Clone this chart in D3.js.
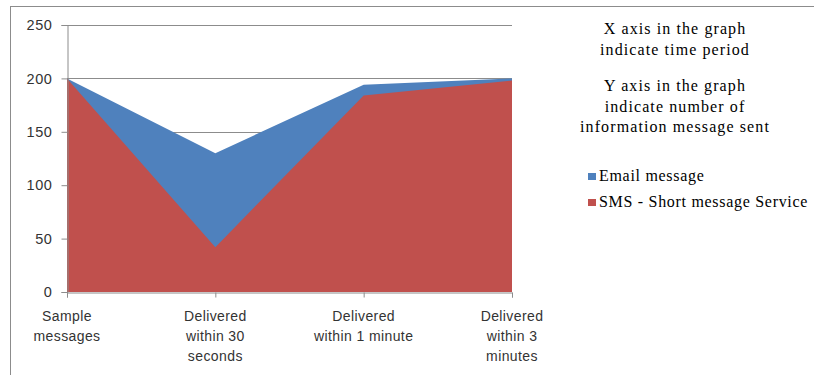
<!DOCTYPE html>
<html>
<head>
<meta charset="utf-8">
<script src="https://cdn.jsdelivr.net/npm/d3@7"></script>
<style>
  html, body { margin: 0; padding: 0; background: #fff; overflow: hidden; }
  svg { display: block; }
</style>
</head>
<body>
<svg id="chart" width="814" height="375"></svg>
<script>
// Message delivery over time: emails vs SMS
const categories = [
  ["Sample", "messages"],
  ["Delivered", "within 30", "seconds"],
  ["Delivered", "within 1 minute"],
  ["Delivered", "within 3", "minutes"]
];
const emailValues = [200, 130, 194, 200];
const smsValues = [200, 42, 184, 198];
const yTicks = [0, 50, 100, 150, 200, 250];
const seriesNames = ["Email message", "SMS - Short message Service"];
const seriesColors = ["#4F81BD", "#C0504D"];
const noteLines = [
  ["X axis in the graph", "indicate time period"],
  ["Y axis in the graph", "indicate number of", "information message sent"]
];

const svg = d3.select("#chart");
const plot = { left: 67, right: 512, top: 25, bottom: 292 };

// Chart area frame
svg.append("rect")
  .attr("x", 10.5).attr("y", 6.5)
  .attr("width", 830).attr("height", 400)
  .attr("fill", "#fff")
  .attr("stroke", "#8c8c8c").attr("stroke-width", 1);

const idx = d3.range(categories.length);
const x = d3.scalePoint().domain(idx).range([plot.left, plot.right]);
const y = d3.scaleLinear().domain([0, 250]).range([plot.bottom, plot.top]);

// Horizontal gridlines
svg.append("g")
  .selectAll("line")
  .data(yTicks.filter(t => t > 0))
  .join("line")
  .attr("x1", plot.left).attr("x2", plot.right)
  .attr("y1", d => Math.round(y(d)) + 0.5).attr("y2", d => Math.round(y(d)) + 0.5)
  .attr("stroke", "#8c8c8c").attr("stroke-width", 1);

// Overlapping areas: email behind, SMS in front
const area = vals => d3.area()
  .x(i => x(i))
  .y0(y(0))
  .y1(i => y(vals[i]))(idx);

svg.append("path").attr("d", area(emailValues)).attr("fill", seriesColors[0]);
svg.append("path").attr("d", area(smsValues)).attr("fill", seriesColors[1]);

// Y axis
const yAxis = svg.append("g")
  .attr("transform", `translate(${plot.left + 0.5},0)`)
  .call(d3.axisLeft(y).tickValues(yTicks).tickSize(6).tickPadding(9));
yAxis.select(".domain").attr("stroke", "#8c8c8c");
yAxis.selectAll(".tick line").attr("stroke", "#8c8c8c");
yAxis.selectAll(".tick text")
  .attr("font-family", "'Liberation Sans', Arial, sans-serif")
  .attr("font-size", 14.5)
  .attr("letter-spacing", 0.6)
  .attr("fill", "#333");

// X axis
const xAxis = svg.append("g")
  .attr("transform", `translate(0,${plot.bottom + 0.5})`)
  .call(d3.axisBottom(x).tickSize(5).tickFormat(""));
xAxis.select(".domain").attr("stroke", "#8c8c8c");
xAxis.selectAll(".tick line").attr("stroke", "#8c8c8c");

// Multi-line category labels
const catG = svg.append("g")
  .attr("font-family", "'Liberation Sans', Arial, sans-serif")
  .attr("font-size", 14)
  .attr("letter-spacing", 0.4)
  .attr("fill", "#333")
  .attr("text-anchor", "middle");
idx.forEach(i => {
  const t = catG.append("text").attr("x", x(i)).attr("y", 321);
  categories[i].forEach((line, k) => {
    t.append("tspan").attr("x", x(i)).attr("dy", k === 0 ? 0 : 20).text(line);
  });
});

// Explanatory notes
const noteG = svg.append("g")
  .attr("font-family", "'Liberation Serif', 'Times New Roman', serif")
  .attr("font-size", 16)
  .attr("letter-spacing", 1.1)
  .attr("fill", "#000")
  .attr("text-anchor", "middle");
const noteStarts = [34, 91];
noteLines.forEach((block, b) => {
  block.forEach((line, k) => {
    noteG.append("text")
      .attr("x", 675)
      .attr("y", noteStarts[b] + k * 20.5)
      .text(line);
  });
});

// Legend
const legend = svg.append("g")
  .attr("font-family", "'Liberation Serif', 'Times New Roman', serif")
  .attr("font-size", 16)
  .attr("letter-spacing", 0.7)
  .attr("fill", "#000");
seriesNames.forEach((name, i) => {
  const ly = 181 + i * 26;
  legend.append("rect")
    .attr("x", 588).attr("y", ly - 8)
    .attr("width", 8).attr("height", 7)
    .attr("fill", seriesColors[i]);
  legend.append("text")
    .attr("x", 599).attr("y", ly)
    .text(name);
});
</script>
</body>
</html>
